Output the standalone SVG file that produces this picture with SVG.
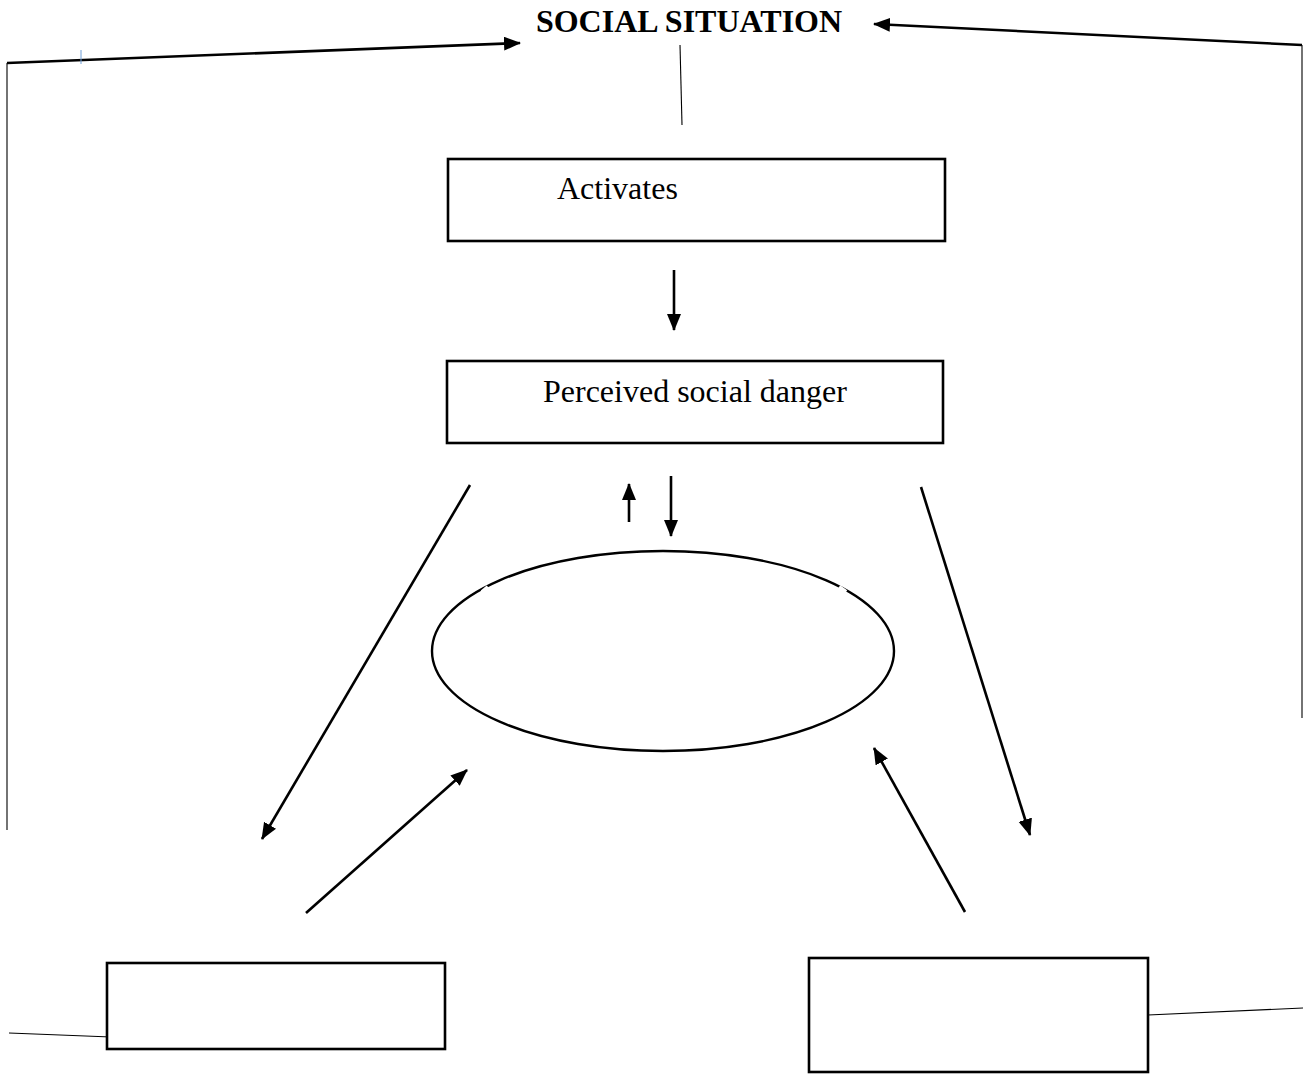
<svg xmlns="http://www.w3.org/2000/svg" width="1303" height="1074" viewBox="0 0 1303 1074">
<style>
.box{fill:#fff;stroke:#000;stroke-width:2.6}
.lbl{font-family:"Liberation Serif","Times New Roman",serif;font-size:32px;fill:#000}
.c{stroke:#000;stroke-width:2.6;fill:none}
.t{stroke:#000;stroke-width:1.1;fill:none}
</style>
<defs>
<marker id="ah" markerUnits="userSpaceOnUse" markerWidth="18" markerHeight="16" refX="16" refY="7" orient="auto">
<path d="M0,0 L17,7 L0,14 Z" fill="#000"/>
</marker>
</defs>
<rect width="1303" height="1074" fill="#fff"/>
<g id="connectors">
<line class="t" x1="7" y1="63" x2="7" y2="830"/>
<line class="c" x1="7" y1="63" x2="520" y2="43" marker-end="url(#ah)"/>
<line x1="81" y1="50" x2="81" y2="64" stroke="#6f9fd8" stroke-width="1"/>
<line class="t" x1="1302" y1="45" x2="1302" y2="718"/>
<line class="c" x1="1302" y1="45" x2="874" y2="24" marker-end="url(#ah)"/>
<line class="t" x1="680" y1="45" x2="682" y2="125"/>
<line class="c" x1="674" y1="270" x2="674" y2="330" marker-end="url(#ah)"/>
<line class="c" x1="629" y1="522" x2="629" y2="484" marker-end="url(#ah)"/>
<line class="c" x1="671" y1="476" x2="671" y2="536" marker-end="url(#ah)"/>
<line class="c" x1="470" y1="485" x2="262" y2="839" marker-end="url(#ah)"/>
<line class="c" x1="306" y1="913" x2="467" y2="770" marker-end="url(#ah)"/>
<line class="c" x1="921" y1="487" x2="1030" y2="835" marker-end="url(#ah)"/>
<line class="c" x1="965" y1="912" x2="874" y2="748" marker-end="url(#ah)"/>
<line class="t" x1="9" y1="1033" x2="111" y2="1037"/>
<line class="t" x1="1148" y1="1015" x2="1303" y2="1008"/>
</g>
<g id="title">
<text class="lbl" x="689" y="32" text-anchor="middle" font-weight="bold">SOCIAL SITUATION</text>
</g>
<g id="activates">
<rect class="box" x="448" y="159" width="497" height="82"/>
<text class="lbl" x="557" y="199">Activates</text>
</g>
<g id="perceived">
<rect class="box" x="447" y="361" width="496" height="82"/>
<text class="lbl" x="543" y="402">Perceived social danger</text>
</g>
<g id="ellipse">
<ellipse cx="663" cy="651" rx="231" ry="100" fill="#fff" stroke="#000" stroke-width="2.4"/>
<line x1="482" y1="592" x2="488" y2="587" stroke="#fff" stroke-width="4"/>
<line x1="839" y1="587" x2="846" y2="592" stroke="#fff" stroke-width="4"/>
</g>
<g id="box-left">
<rect class="box" x="107" y="963" width="338" height="86"/>
</g>
<g id="box-right">
<rect class="box" x="809" y="958" width="339" height="114"/>
</g>
</svg>
